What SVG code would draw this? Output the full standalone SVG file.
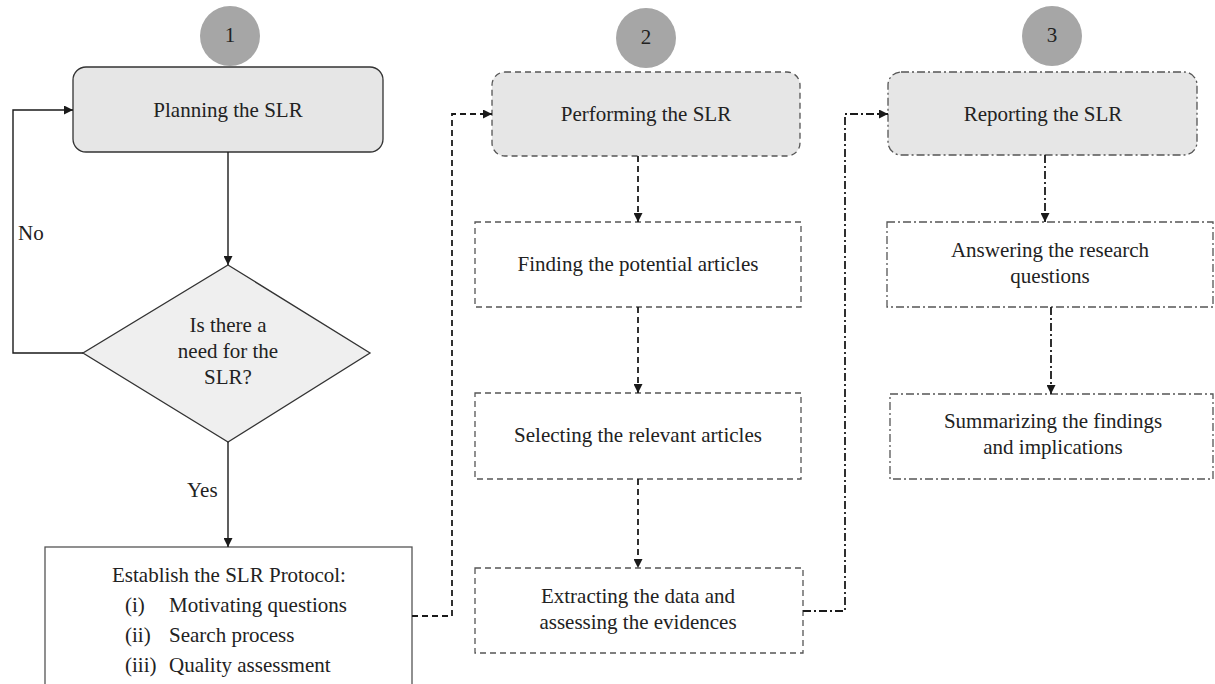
<svg xmlns="http://www.w3.org/2000/svg" width="1215" height="684" viewBox="0 0 1215 684" font-family="Liberation Serif, Times New Roman, DejaVu Serif, serif">
<defs>
<marker id="ah" viewBox="0 0 10 10" refX="10" refY="5" markerWidth="9" markerHeight="9" markerUnits="userSpaceOnUse" orient="auto">
<path d="M0,0 L10,5 L0,10 z" fill="#1a1a1a"/>
</marker>
</defs>
<style>
text{font-family:"Liberation Serif","Times New Roman","DejaVu Serif",serif;fill:#222;font-size:21px}
.c{text-anchor:middle}
.num{fill:#a6a6a6;stroke:none}
.solid{fill:none;stroke:#1a1a1a;stroke-width:1.4}
.dash{fill:none;stroke:#1a1a1a;stroke-width:1.8;stroke-dasharray:6 4}
.dashdot{fill:none;stroke:#1a1a1a;stroke-width:1.8;stroke-dasharray:8 3 2 3}
.boxS{fill:#e6e6e6;stroke:#333;stroke-width:1.3}
.boxD{stroke:#555;stroke-width:1.3;stroke-dasharray:6 4}
.boxDD{stroke:#555;stroke-width:1.3;stroke-dasharray:8 3 2 3}
</style>
<rect width="1215" height="684" fill="#fff"/>

<g id="badge1"><circle class="num" cx="230" cy="36" r="30"/><text class="c" x="230" y="42" font-family="Liberation Serif, serif">1</text></g>
<g id="badge2"><circle class="num" cx="646" cy="38" r="30"/><text class="c" x="646" y="44" font-family="Liberation Serif, serif">2</text></g>
<g id="badge3"><circle class="num" cx="1052" cy="36" r="30"/><text class="c" x="1052" y="42" font-family="Liberation Serif, serif">3</text></g>

<g id="planning"><rect class="boxS" x="73" y="67" width="310" height="85" rx="13"/><text class="c" x="228" y="117" font-family="Liberation Serif, serif">Planning the SLR</text></g>
<g id="decision"><polygon points="228,265 370,353 228,442 83,353" fill="#efefef" stroke="#333" stroke-width="1.3"/>
<text class="c" x="228" y="332" font-family="Liberation Serif, serif">Is there a</text><text class="c" x="228" y="358" font-family="Liberation Serif, serif">need for the</text><text class="c" x="228" y="384" font-family="Liberation Serif, serif">SLR?</text></g>
<g id="protocol"><rect x="45" y="547" width="367" height="150" fill="#fff" stroke="#555" stroke-width="1.3"/>
<text class="c" x="229" y="582" font-family="Liberation Serif, serif">Establish the SLR Protocol:</text>
<text x="125" y="612" font-family="Liberation Serif, serif">(i)</text><text x="169" y="612" font-family="Liberation Serif, serif">Motivating questions</text>
<text x="125" y="642" font-family="Liberation Serif, serif">(ii)</text><text x="169" y="642" font-family="Liberation Serif, serif">Search process</text>
<text x="125" y="672" font-family="Liberation Serif, serif">(iii)</text><text x="169" y="672" font-family="Liberation Serif, serif">Quality assessment</text></g>

<g id="performing"><rect class="boxD" fill="#e6e6e6" x="492" y="72" width="308" height="84" rx="13"/><text class="c" x="646" y="121" font-family="Liberation Serif, serif">Performing the SLR</text></g>
<g id="finding"><rect class="boxD" fill="#fff" x="475" y="222" width="326" height="85"/><text class="c" x="638" y="271" font-family="Liberation Serif, serif">Finding the potential articles</text></g>
<g id="selecting"><rect class="boxD" fill="#fff" x="475" y="393" width="326" height="86"/><text class="c" x="638" y="442" font-family="Liberation Serif, serif">Selecting the relevant articles</text></g>
<g id="extracting"><rect class="boxD" fill="#fff" x="475" y="568" width="328" height="85"/><text class="c" x="638" y="603" font-family="Liberation Serif, serif">Extracting the data and</text><text class="c" x="638" y="629" font-family="Liberation Serif, serif">assessing the evidences</text></g>

<g id="reporting"><rect class="boxDD" fill="#e6e6e6" x="888" y="72" width="309" height="83" rx="13"/><text class="c" x="1043" y="121" font-family="Liberation Serif, serif">Reporting the SLR</text></g>
<g id="answering"><rect class="boxDD" fill="#fff" x="887" y="222" width="326" height="85"/><text class="c" x="1050" y="257" font-family="Liberation Serif, serif">Answering the research</text><text class="c" x="1050" y="283" font-family="Liberation Serif, serif">questions</text></g>
<g id="summarizing"><rect class="boxDD" fill="#fff" x="890" y="394" width="323" height="85"/><text class="c" x="1053" y="428" font-family="Liberation Serif, serif">Summarizing the findings</text><text class="c" x="1053" y="454" font-family="Liberation Serif, serif">and implications</text></g>

<g id="connectors">
<path class="solid" d="M228,152 L228,265" marker-end="url(#ah)"/>
<path class="solid" d="M83,353 L13,353 L13,110 L73,110" marker-end="url(#ah)"/>
<path class="solid" d="M228,442 L228,547" marker-end="url(#ah)"/>
<path class="dash" d="M412,616 L452,616 L452,114 L492,114" marker-end="url(#ah)"/>
<path class="dash" d="M638,156 L638,222" marker-end="url(#ah)"/>
<path class="dash" d="M638,307 L638,393" marker-end="url(#ah)"/>
<path class="dash" d="M638,479 L638,568" marker-end="url(#ah)"/>
<path class="dashdot" d="M803,611 L845,611 L845,114 L888,114" marker-end="url(#ah)"/>
<path class="dashdot" d="M1045,155 L1045,222" marker-end="url(#ah)"/>
<path class="dashdot" d="M1051,307 L1051,394" marker-end="url(#ah)"/>
<text x="18" y="240" font-family="Liberation Serif, serif">No</text>
<text x="187" y="497" font-family="Liberation Serif, serif">Yes</text>
</g>
</svg>
